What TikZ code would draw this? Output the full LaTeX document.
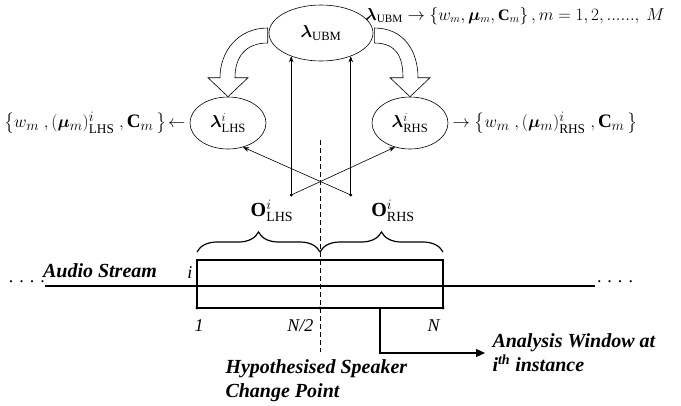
\documentclass[tikz,border=0pt]{standalone}
\usepackage{amsmath,bm}
\usepackage{fontspec}
\setmainfont{Liberation Serif}
\usetikzlibrary{shapes.geometric,decorations.pathreplacing,arrows.meta,calc}

\begin{document}
\begin{tikzpicture}[x=1pt,y=-1pt,
    every node/.style={font=\fontsize{18}{21}\selectfont},
    model/.style={draw, semithick, ellipse, minimum width=76pt, minimum height=52pt, inner sep=0pt},
    par/.style={font=\fontsize{19}{22}\selectfont, inner sep=1pt},
    lbl/.style={font=\fontsize{20}{24}\selectfont\bfseries\itshape, align=left},
    hollow/.style={draw, semithick, fill=white},
    arr/.style={semithick, -{Stealth[length=6pt,width=4.5pt]}}]
    \useasboundingbox (0,0) rectangle (681,405);

    % Models
    \node[model, minimum width=104pt, minimum height=56pt] (ubm) at (321,33) {$\boldsymbol{\lambda}_{\mathrm{UBM}}$};
    \node[model] (lhs) at (228,123) {$\boldsymbol{\lambda}^{i}_{\mathrm{LHS}}$};
    \node[model] (rhs) at (410,123) {$\boldsymbol{\lambda}^{i}_{\mathrm{RHS}}$};

    % Parameters of each model
    \node[par, anchor=west, font=\fontsize{16}{19}\selectfont] (ubmpar) at (364,16) {$\boldsymbol{\lambda}_{\mathrm{UBM}} \rightarrow \left\{ w_m, \boldsymbol{\mu}_m, \mathbf{C}_m \right\}, m=1,2,......,\ M$};
    \node[par, anchor=east] (lhspar) at ([xshift=-3pt]lhs.west) {$\left\{ w_m\;, (\boldsymbol{\mu}_m)^{i}_{\mathrm{LHS}}\;, \mathbf{C}_m\, \right\}\!\leftarrow$};
    \node[par, anchor=west] (rhspar) at ([xshift=3pt]rhs.east) {$\rightarrow \left\{ w_m\;, (\boldsymbol{\mu}_m)^{i}_{\mathrm{RHS}}\;, \mathbf{C}_m\, \right\}$};

    % Adaptation (hollow arrows)
    \coordinate (A) at (ubm.west);
    \coordinate (T) at (lhs.north);
    \draw[hollow] ($(A)+(-1,-5)$) .. controls +(-30,0) and +(0,-26) .. ($(T)+(-8,-19)$) -- ($(T)+(-20,-19)$) -- (T)
        -- ($(T)+(20,-19)$) -- ($(T)+(7,-19)$) .. controls +(0,-21) and +(-22,0) .. ($(A)+(-1,10)$) -- cycle;
    \coordinate (B) at (ubm.east);
    \coordinate (U) at (rhs.north);
    \draw[hollow] ($(B)+(1,-5)$) .. controls +(30,0) and +(0,-26) .. ($(U)+(8,-19)$) -- ($(U)+(20,-19)$) -- (U)
        -- ($(U)+(-20,-19)$) -- ($(U)+(-7,-19)$) .. controls +(0,-21) and +(22,0) .. ($(B)+(1,10)$) -- cycle;

    % Data of the two halves
    \coordinate (u1) at (ubm.218);
    \coordinate (u2) at (ubm.322);
    \coordinate (d1) at (u1 |- 0,195);
    \coordinate (d2) at (u2 |- 0,195);
    \draw[arr] (d1) -- (u1);
    \draw[arr] (d2) -- (u2);
    \draw[arr] (d1) -- (rhs.238);
    \draw[arr] (d2) -- (lhs.302);
    \fill (d1) circle (1.6);
    \fill (d2) circle (1.6);

    % Hypothesised change point
    \coordinate (cp) at (320,140);
    \coordinate (cpend) at (320,352);
    \draw[semithick, dash pattern=on 5pt off 3pt] (cp) -- (cpend);

    % Audio stream and window
    \coordinate (s1) at (45,286);
    \coordinate (s2) at (595,286);
    \draw[very thick] (s1) -- (s2);
    \node (ldots) at (27,282) {.\,\,.\,\,.\,\,.};
    \node (rdots) at (615,282) {.\,\,.\,\,.\,\,.};
    \node[lbl] (audio) at (100,271) {Audio Stream};
    \coordinate (w1) at (197,308);
    \coordinate (wh) at (320,308);
    \coordinate (w2) at (443,308);
    \draw[very thick] (197,260) rectangle (w2);
    \foreach \p in {w1,wh,w2} \fill (\p) circle (1.6);
    \node[anchor=east] (ii) at (196,273) {\textit{i}};
    \node (n1) at (199,326) {\textit{1}};
    \node[anchor=east] (nhalf) at (317,326) {\textit{N/2}};
    \node (nn) at (434,326) {\textit{N}};

    % Halves
    \draw[very thick, decorate, decoration={brace, amplitude=20pt}] (197,252) -- (320,252);
    \draw[very thick, decorate, decoration={brace, amplitude=20pt}] (320,252) -- (443,252);
    \node[font=\fontsize{20}{23}\selectfont] (olhs) at (272,211) {$\mathbf{O}^{i}_{\mathrm{LHS}}$};
    \node[font=\fontsize{20}{23}\selectfont] (orhs) at (393,211) {$\mathbf{O}^{i}_{\mathrm{RHS}}$};

    % Labels below
    \coordinate (aw) at (380,308);
    \node[lbl, anchor=west] (awtext) at (489,353) {Analysis Window at\\i\textsuperscript{th} instance};
    \draw[very thick, -{Triangle[length=9pt,width=8pt]}] (aw) |- ([xshift=-4pt]awtext.west);
    \node[lbl, anchor=west] (hyp) at (222,381) {Hypothesised Speaker\\Change Point};
\end{tikzpicture}
\end{document}
